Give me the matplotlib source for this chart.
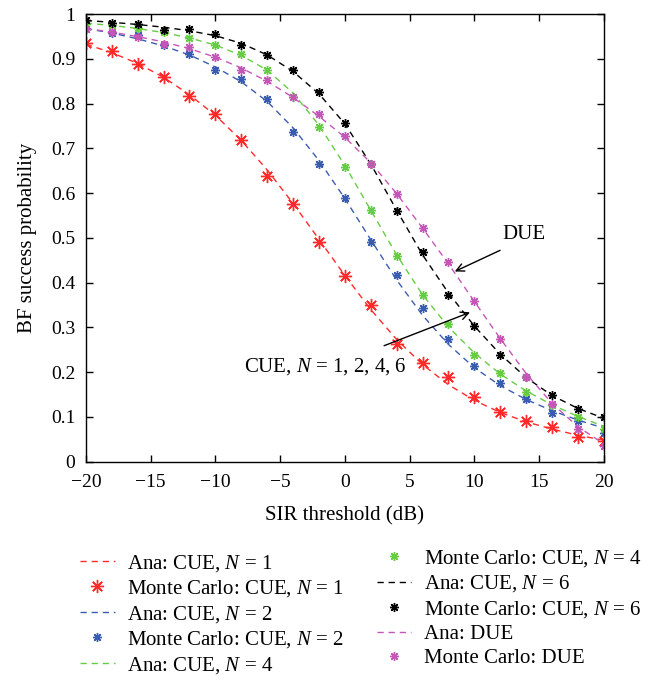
import matplotlib
matplotlib.use("Agg")
import matplotlib.pyplot as plt

plt.rcParams['font.family'] = ['Liberation Serif', 'DejaVu Serif']
plt.rcParams['mathtext.fontset'] = 'custom'
plt.rcParams['mathtext.rm'] = 'Liberation Serif'
plt.rcParams['mathtext.it'] = 'Liberation Serif:italic'

sir_db = [-20, -18, -16, -14, -12, -10, -8, -6, -4, -2, 0, 2, 4, 6, 8, 10, 12, 14, 16, 18, 20]

mc_n1 = [0.935, 0.917, 0.889, 0.859, 0.818, 0.777, 0.720, 0.638, 0.576, 0.491, 0.415,
         0.350, 0.263, 0.220, 0.190, 0.144, 0.112, 0.092, 0.077, 0.056, 0.047]
mc_n2 = [0.968, 0.959, 0.953, 0.932, 0.912, 0.876, 0.856, 0.810, 0.737, 0.665, 0.589,
         0.490, 0.417, 0.343, 0.274, 0.215, 0.176, 0.141, 0.109, 0.090, 0.064]
mc_n4 = [0.979, 0.975, 0.970, 0.961, 0.946, 0.931, 0.911, 0.875, 0.815, 0.748, 0.659,
         0.562, 0.460, 0.373, 0.307, 0.239, 0.198, 0.155, 0.127, 0.100, 0.073]
mc_n6 = [0.987, 0.981, 0.978, 0.964, 0.968, 0.955, 0.931, 0.908, 0.875, 0.827, 0.757,
         0.665, 0.560, 0.468, 0.373, 0.304, 0.239, 0.190, 0.148, 0.118, 0.099]
mc_due = [0.968, 0.961, 0.949, 0.934, 0.926, 0.905, 0.876, 0.853, 0.815, 0.776, 0.728,
          0.665, 0.598, 0.523, 0.447, 0.359, 0.275, 0.190, 0.129, 0.074, 0.036]

ana_n1 = [0.933, 0.914, 0.890, 0.859, 0.820, 0.774, 0.718, 0.652, 0.577, 0.497, 0.416,
          0.340, 0.273, 0.217, 0.172, 0.137, 0.110, 0.089, 0.073, 0.059, 0.048]
ana_n2 = [0.968, 0.958, 0.945, 0.929, 0.909, 0.882, 0.849, 0.805, 0.746, 0.673, 0.588,
          0.496, 0.406, 0.327, 0.262, 0.210, 0.170, 0.139, 0.114, 0.093, 0.075]
ana_n4 = [0.980, 0.975, 0.968, 0.959, 0.947, 0.931, 0.908, 0.875, 0.824, 0.752, 0.662,
          0.562, 0.462, 0.373, 0.301, 0.243, 0.196, 0.158, 0.127, 0.101, 0.079]
ana_n6 = [0.986, 0.982, 0.977, 0.971, 0.963, 0.952, 0.935, 0.909, 0.872, 0.822, 0.755,
          0.665, 0.562, 0.462, 0.377, 0.303, 0.240, 0.188, 0.148, 0.119, 0.097]
ana_due = [0.968, 0.960, 0.950, 0.938, 0.923, 0.904, 0.880, 0.850, 0.814, 0.772, 0.725,
           0.668, 0.599, 0.522, 0.442, 0.358, 0.275, 0.197, 0.130, 0.078, 0.040]

series = [
    ("CUE, $\\it{N}$ = 1", ana_n1, mc_n1, "#ff2a2a", 9.5),
    ("CUE, $\\it{N}$ = 2", ana_n2, mc_n2, "#3a5cb0", 6.5),
    ("CUE, $\\it{N}$ = 4", ana_n4, mc_n4, "#66cc44", 6.5),
    ("CUE, $\\it{N}$ = 6", ana_n6, mc_n6, "#000000", 6.5),
    ("DUE", ana_due, mc_due, "#c456b8", 6.5),
]

fig = plt.figure(figsize=(6.71, 6.77), dpi=100)
ax = fig.add_axes([0.128, 0.318, 0.772, 0.661])

handles = []
for name, ana, mc, col, ms in series:
    l1, = ax.plot(sir_db, ana, linestyle=(0, (4.5, 3.5)), color=col, lw=1.0,
                  label="Ana: " + name)
    l2, = ax.plot(sir_db, mc, linestyle='none', marker=(8, 2, 0), markersize=ms,
                  markeredgewidth=1.0, color=col, label="Monte Carlo: " + name)
    handles += [l1, l2]

ax.set_xlim(-20, 20)
ax.set_ylim(0, 1)
ax.set_xticks([-20, -15, -10, -5, 0, 5, 10, 15, 20])
ax.set_xticklabels(["\u221220", "\u221215", "\u221210", "\u22125", "0", "5", "10", "15", "20"])
ax.set_yticks([0, 0.1, 0.2, 0.3, 0.4, 0.5, 0.6, 0.7, 0.8, 0.9, 1])
ax.set_yticklabels(["0", "0.1", "0.2", "0.3", "0.4", "0.5", "0.6", "0.7", "0.8", "0.9", "1"])
ax.tick_params(direction='in', top=True, right=True, labelsize=14, length=5, width=1)
ax.tick_params(axis='x', pad=8.5)
ax.tick_params(axis='y', pad=7.5)
for s in ax.spines.values():
    s.set_linewidth(1.0)
ax.set_xlabel("SIR threshold (dB)", fontsize=15, labelpad=11.5)
ax.set_ylabel("BF success probability", fontsize=15, labelpad=10)

ax.annotate("", xy=(8.29, 0.4225), xytext=(12.18, 0.475),
            arrowprops=dict(arrowstyle='->', color='black', lw=1.0, mutation_scale=14))
ax.text(13.82, 0.507, "DUE", fontsize=15, ha='center', va='center')
ax.annotate("", xy=(9.86, 0.336), xytext=(2.83, 0.257),
            arrowprops=dict(arrowstyle='->', color='black', lw=1.0, mutation_scale=14))
ax.text(-1.54, 0.2127, "CUE, $\\it{N}$ = 1, 2, 4, 6", fontsize=15, ha='center', va='center')

legkw = dict(loc='upper left', frameon=False, fontsize=15, handlelength=1.65,
             labelspacing=0.22, borderaxespad=0, handletextpad=0.6)
leg1 = fig.legend(handles=handles[:5], bbox_to_anchor=(0.107, 0.196), **legkw)
leg2 = fig.legend(handles=handles[5:], bbox_to_anchor=(0.549, 0.203), **legkw)

fig.savefig("out.png", dpi=100)
